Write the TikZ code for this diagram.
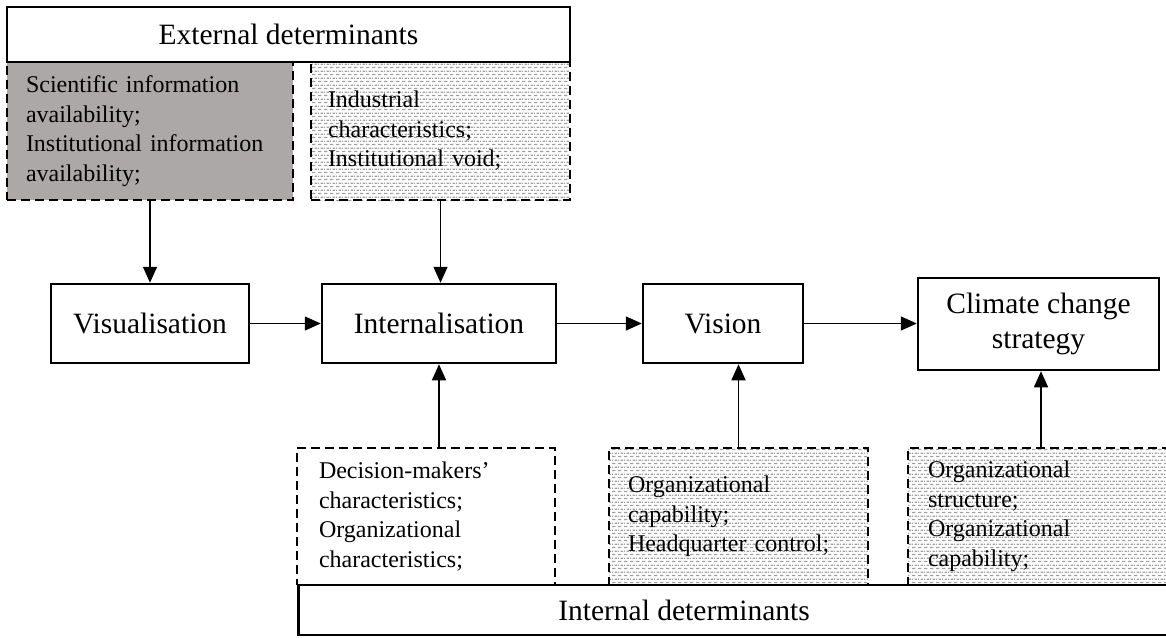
\documentclass[tikz,border=0pt]{standalone}
\usepackage{fontspec}
\setmainfont{Liberation Serif}
\usetikzlibrary{arrows.meta,patterns.meta}

\definecolor{infogray}{RGB}{172,168,167}

% staggered rows of short grey dashes
\tikzdeclarepattern{
  name=dashbrick,
  type=uncolored,
  bounding box={(0pt,0pt) and (6pt,6.6pt)},
  tile size={(6pt,6.6pt)},
  code={
    \pgfsetlinewidth{1.3pt}
    \pgfpathmoveto{\pgfpoint{0pt}{1.65pt}}\pgfpathlineto{\pgfpoint{4pt}{1.65pt}}
    \pgfpathmoveto{\pgfpoint{3pt}{4.95pt}}\pgfpathlineto{\pgfpoint{6pt}{4.95pt}}
    \pgfpathmoveto{\pgfpoint{0pt}{4.95pt}}\pgfpathlineto{\pgfpoint{1pt}{4.95pt}}
    \pgfusepath{stroke}
  }
}

\begin{document}
\begin{tikzpicture}[x=1pt,y=-1pt,
  big/.style={font=\fontsize{29.5}{35.4}\selectfont},
  small/.style={font=\fontsize{24}{29.5}\selectfont},
  solidbox/.style={draw, line width=2.5pt, rectangle, inner sep=0pt, big, align=center},
  dashbox/.style={draw, line width=2.5pt, dash pattern=on 9pt off 5pt, rectangle,
    small, align=left, inner ysep=0pt, minimum height=#1},
  dashbox/.default=138pt,
  dotted fill/.style={pattern=dashbrick, pattern color=gray!75},
  flow/.style={-{Triangle[length=16pt,width=14pt]}, line width=1.5pt}
]
\useasboundingbox (0,0) rectangle (1166,637);

% external determinants
\node[dashbox, fill=infogray, inner xsep=19pt, text width=248pt] (sci) at (150,131)
  {Scientific information\\availability;\\Institutional information\\availability;};
\node[dashbox, dotted fill, inner xsep=17pt, text width=225pt] (ind) at (440.5,131)
  {Industrial\\characteristics;\\Institutional void;};
\node[solidbox, minimum width=563pt, minimum height=55pt] (ext) at (288.5,34.5)
  {External determinants};

% main chain
\node[solidbox, minimum width=198pt, minimum height=79pt] (vis) at (150,323.5) {Visualisation};
\node[solidbox, minimum width=234pt, minimum height=79pt] (int) at (439,323.5) {Internalisation};
\node[solidbox, minimum width=160pt, minimum height=79pt] (vision) at (723,323.5) {Vision};
\node[solidbox, minimum width=241pt, minimum height=92pt] (climate) at (1038.5,324)
  {Climate change\\strategy};

% internal determinants
\node[dashbox=137pt, inner xsep=22pt, text width=214pt] (dm) at (426,516.5)
  {Decision-makers'\\characteristics;\\Organizational\\characteristics;};
\node[dashbox=137pt, dotted fill, inner xsep=19pt, text width=221pt] (oc) at (738.5,516.5)
  {Organizational\\capability;\\Headquarter control;};
\node[dashbox=137pt, dotted fill, inner xsep=20pt, text width=226pt] (os) at (1041,516.5)
  {Organizational\\structure;\\Organizational\\capability;};
\node[solidbox, minimum width=883pt, minimum height=50pt, anchor=west] (intdet) at (297,610) {};
\node[big] (intlabel) at (684,610) {Internal determinants};

% connectors
\draw[flow] (sci.south) -- (vis.north);
\draw[flow] (ind.south) -- (ind.south |- int.north);
\draw[flow] (vis.east) -- (int.west);
\draw[flow] (int.east) -- (vision.west);
\draw[flow] (vision.east) -- (vision.east -| climate.west);
\draw[flow] (int.south |- dm.north) -- (int.south);
\draw[flow] (oc.north) -- (oc.north |- vision.south);
\draw[flow] (os.north) -- (os.north |- climate.south);
\end{tikzpicture}
\end{document}
